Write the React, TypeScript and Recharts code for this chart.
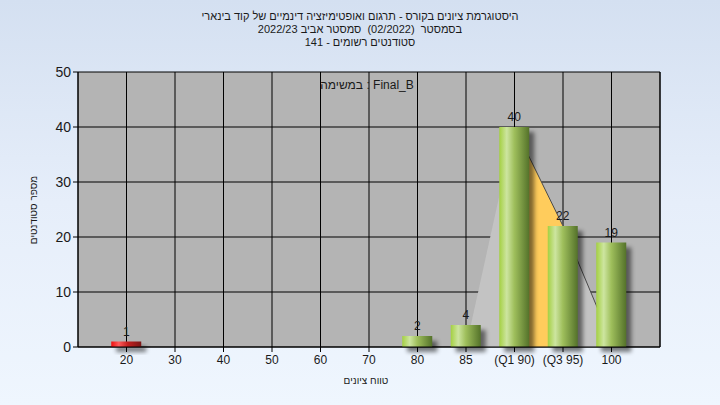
import {
  ComposedChart,
  Bar,
  Area,
  XAxis,
  YAxis,
  CartesianGrid,
  Cell,
  LabelList,
} from "recharts";

// grade buckets on the x axis, in display order
const categories = ["20", "30", "40", "50", "60", "70", "80", "85", "(Q1 90)", "(Q3 95)", "100"];
// number of students in each bucket
const counts = [1, null, null, null, null, null, 2, 4, 40, 22, 19];
// grey spread area behind the bars
const spreadArea = [null, null, null, null, null, null, null, 0, 40, 22, 1];
// yellow Q1..Q3 band
const quartileArea = [null, null, null, null, null, null, null, null, 40, 22, null];
// thin outline on the right side of the area
const tailLine = [null, null, null, null, null, null, null, null, 40, 22, 1];
const yTicks = [0, 10, 20, 30, 40, 50];

const titleLines = [
  "היסטוגרמת ציונים בקורס - תרגום ואופטימיזציה דינמיים של קוד בינארי",
  "בסמסטר  (02/2022)  סמסטר אביב 2022/23",
  "סטודנטים רשומים - 141",
];
// legend words, left to right as drawn
const legendWords = ["במשימה", ":", "Final_B"];
const xTitle = "טווח ציונים";
const yTitle = "מספר סטודנטים";

const data = categories.map((label, i) => ({
  x: i + 1,
  label,
  count: counts[i],
  spread: spreadArea[i],
  quartile: quartileArea[i],
  tail: tailLine[i],
}));

const FONT = "'Liberation Sans', 'DejaVu Sans', sans-serif";

// each word is an inline-block so bidi keeps them in left-to-right order
function Words({ words }: { words: string[] }) {
  return (
    <>
      {words.map((w, i) => (
        <span key={i} style={{ whiteSpace: "pre" }}>
          <span style={{ display: "inline-block", whiteSpace: "pre" }}>{w}</span>
          {i < words.length - 1 ? " " : ""}
        </span>
      ))}
    </>
  );
}

function CylinderBar(props: any) {
  const { x, y, width, height, fill } = props;
  if (!height || height <= 0) return null;
  return (
    <g>
      <rect x={x + 5} y={y + 5} width={width} height={height} fill="#000" opacity={0.5} filter="url(#barShadow)" />
      <rect x={x} y={y} width={width} height={height} fill={fill} />
    </g>
  );
}

function BarValue(props: any) {
  const { x, y, width, value } = props;
  if (value == null) return null;
  return (
    <text x={x + width / 2} y={y - 6} textAnchor="middle" fontSize={12} fill="#1a1a1a" fontFamily={FONT}>
      {value}
    </text>
  );
}

export default function App() {
  return (
    <div
      style={{
        position: "absolute",
        left: 0,
        top: 0,
        width: 720,
        height: 405,
        background: "linear-gradient(to bottom, #d4e0f1 0%, #e6eefa 50%, #eff6fe 100%)",
        fontFamily: FONT,
        overflow: "hidden",
      }}
    >
      <svg width={0} height={0} style={{ position: "absolute" }}>
        <defs>
          <linearGradient id="greenBar" x1="0" y1="0" x2="1" y2="0">
            <stop offset="0%" stopColor="#a4d042" />
            <stop offset="25%" stopColor="#cde5a0" />
            <stop offset="50%" stopColor="#9fbf5c" />
            <stop offset="100%" stopColor="#54722a" />
          </linearGradient>
          <linearGradient id="redBar" x1="0" y1="0" x2="1" y2="0">
            <stop offset="0%" stopColor="#f01010" />
            <stop offset="25%" stopColor="#ff5a5a" />
            <stop offset="55%" stopColor="#c42020" />
            <stop offset="100%" stopColor="#7a1616" />
          </linearGradient>
          <filter id="barShadow" x="-50%" y="-50%" width="200%" height="200%">
            <feGaussianBlur stdDeviation="2" />
          </filter>
        </defs>
      </svg>

      {titleLines.map((t, i) => (
        <div
          key={i}
          style={{
            position: "absolute",
            left: 0,
            width: 720,
            top: 10 + i * 13,
            textAlign: "center",
            fontSize: 11,
            lineHeight: "13px",
            color: "#1a1a1a",
            whiteSpace: "pre",
          }}
        >
          {t}
        </div>
      ))}

      <ComposedChart
        width={720}
        height={405}
        data={data}
        margin={{ top: 72, right: 0, bottom: 0, left: 0 }}
      >
        <CartesianGrid yAxisId="left" fill="#b4b4b4" stroke="#000" strokeOpacity={1} />
        <XAxis
          dataKey="x"
          type="number"
          domain={[0, 12]}
          ticks={categories.map((_, i) => i + 1)}
          tickFormatter={(v: number) => categories[v - 1]}
          height={58}
          stroke="#000"
          tickSize={5}
          tickMargin={3}
          tick={{ fontSize: 12, fill: "#1a1a1a", fontFamily: FONT }}
          interval={0}
        />
        <YAxis
          yAxisId="left"
          domain={[0, 50]}
          ticks={yTicks}
          width={78}
          stroke="#000"
          tickSize={5}
          tickMargin={2}
          tick={{ fontSize: 14, fill: "#1a1a1a", fontFamily: FONT }}
        />
        <YAxis
          yAxisId="right"
          orientation="right"
          domain={[0, 50]}
          ticks={yTicks}
          width={60}
          stroke="#000"
          tickSize={5}
          tickMargin={2}
          tick={{ fontSize: 14, fill: "#1a1a1a", fontFamily: FONT }}
        />
        <Area
          yAxisId="left"
          dataKey="spread"
          type="linear"
          fill="#c3c3c3"
          fillOpacity={1}
          stroke="none"
          isAnimationActive={false}
          dot={false}
          activeDot={false}
        />
        <Area
          yAxisId="left"
          dataKey="quartile"
          type="linear"
          fill="#ffcc5c"
          fillOpacity={1}
          stroke="none"
          isAnimationActive={false}
          dot={false}
          activeDot={false}
        />
        <Area
          yAxisId="left"
          dataKey="tail"
          type="linear"
          fill="none"
          stroke="#4a4a4a"
          strokeWidth={1}
          isAnimationActive={false}
          dot={false}
          activeDot={false}
        />
        <Bar
          yAxisId="left"
          dataKey="count"
          barSize={30}
          shape={CylinderBar}
          isAnimationActive={false}
        >
          {data.map((d, i) => (
            <Cell key={i} fill={d.x === 1 ? "url(#redBar)" : "url(#greenBar)"} />
          ))}
          <LabelList dataKey="count" content={BarValue} />
        </Bar>
      </ComposedChart>

      <div
        style={{
          position: "absolute",
          left: 267,
          width: 200,
          top: 78,
          textAlign: "center",
          fontSize: 12,
          color: "#1a1a1a",
          direction: "ltr",
        }}
      >
        <Words words={legendWords} />
      </div>
      <div
        style={{
          position: "absolute",
          left: 266,
          width: 200,
          top: 375,
          textAlign: "center",
          fontSize: 10,
          color: "#1a1a1a",
        }}
      >
        {xTitle}
      </div>
      <div
        style={{
          position: "absolute",
          left: 34 - 60,
          top: 210 - 8,
          width: 120,
          textAlign: "center",
          fontSize: 10,
          lineHeight: "16px",
          color: "#1a1a1a",
          transform: "rotate(-90deg)",
          transformOrigin: "60px 8px",
        }}
      >
        {yTitle}
      </div>
    </div>
  );
}
